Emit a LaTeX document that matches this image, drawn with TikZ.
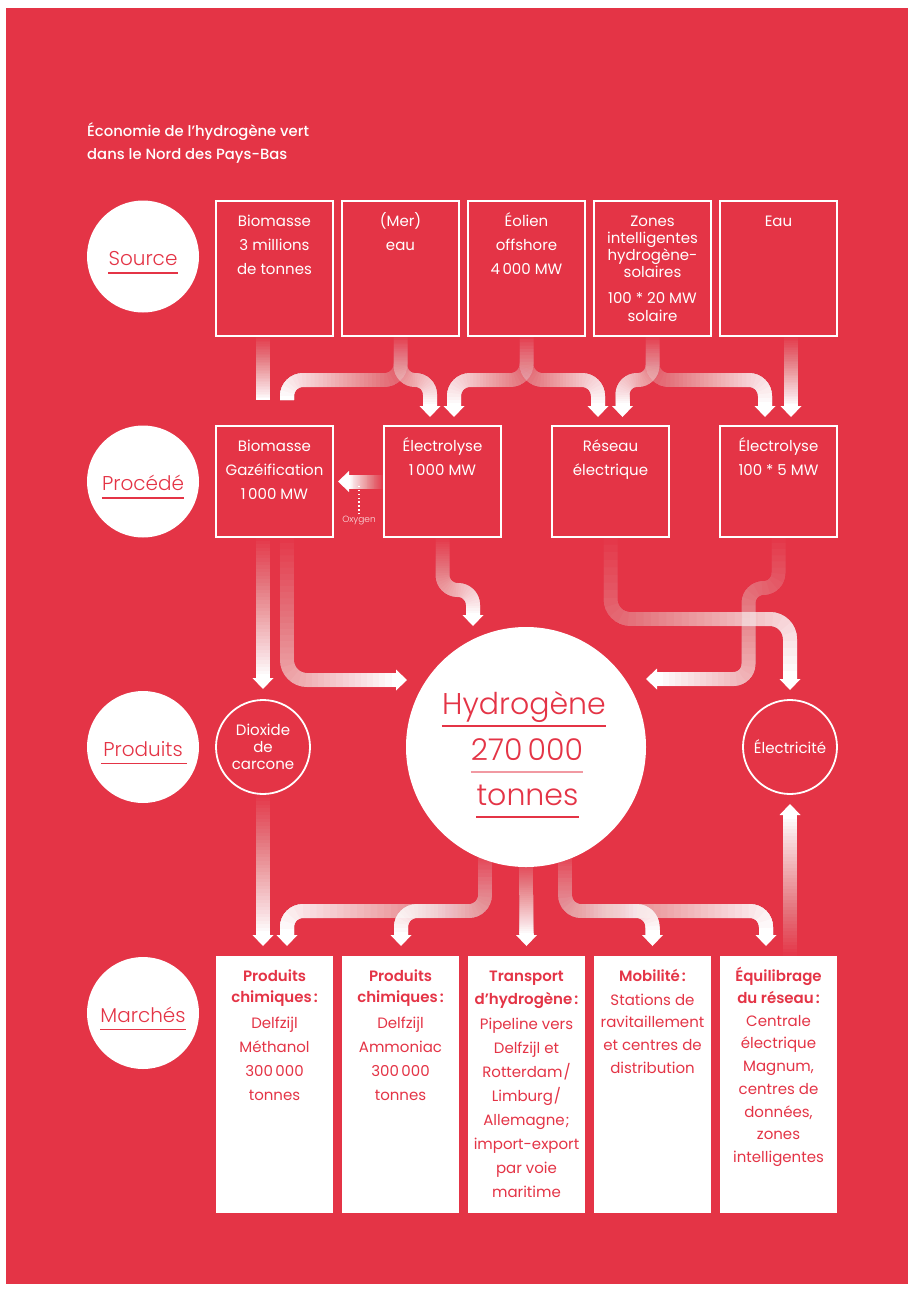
\documentclass[tikz,border=0pt]{standalone}
\usepackage{fontspec}
\setmainfont{Poppins}
\newfontfamily\lightfont{Poppins Light}
\newfontfamily\medfont{Poppins Medium}
\newfontfamily\sbfont{Poppins SemiBold}
\usetikzlibrary{calc}
\definecolor{hred}{RGB}{228,52,70}
\definecolor{hpink}{RGB}{241,153,162}
\newcommand\bodyf{\fontsize{15}{24}\selectfont}
\newcommand\boxtxt[2]{\parbox[t][#1][t]{117pt}{\centering\bodyf\rule{0pt}{16pt}#2}}
\newcommand\gband[3][]{%
  \foreach \k in {0,...,39}{%
    \pgfmathsetmacro\goff{\k*#3/40}%
    \pgfmathsetmacro\gop{1/(40-\k)}%
    \draw[band,#1,draw opacity=\gop,dash pattern=on 0pt off \goff pt on 3000pt off 3000pt] #2;}}
\newcommand\tipD[1]{\fill[white] ($(#1)+(-10.5,0)$) -- ($(#1)+(10.5,0)$) -- ($(#1)+(0,11)$) -- cycle;}
\newcommand\tipU[1]{\fill[white] ($(#1)+(-10.5,0)$) -- ($(#1)+(10.5,0)$) -- ($(#1)+(0,-11)$) -- cycle;}
\newcommand\tipR[1]{\fill[white] ($(#1)+(0,-10.5)$) -- ($(#1)+(0,10.5)$) -- ($(#1)+(11,0)$) -- cycle;}
\newcommand\tipL[1]{\fill[white] ($(#1)+(0,-10.5)$) -- ($(#1)+(0,10.5)$) -- ($(#1)+(-11,0)$) -- cycle;}
\begin{document}
\begin{tikzpicture}[x=1pt,y=-1pt,font=\bodyf,
  band/.style={draw=white,line width=14pt},
  srcbox/.style={draw=white,line width=1.8pt,inner xsep=0pt,inner ysep=9pt,outer sep=0pt,anchor=north west,text=white},
  mktbox/.style={fill=white,inner xsep=0pt,inner ysep=9pt,outer sep=0pt,anchor=north west,text=hred},
  stage/.style={circle,fill=white,minimum size=112pt,inner sep=0pt},
  stagelbl/.style={anchor=base,inner sep=0pt,text=hred,font=\lightfont\fontsize{20}{24}\selectfont},
  stageul/.style={draw=hred,line width=1.1pt},
  prodc/.style={circle,draw=white,line width=1.8pt,minimum size=94pt,inner sep=0pt,outer sep=0pt,text=white},
  h2lbl/.style={anchor=base,inner sep=0pt,text=hred,font=\lightfont\fontsize{30}{36}\selectfont},
  h2ul/.style={draw=hred,line width=1.2pt}]
\useasboundingbox (0,0) rectangle (909,1290);
\fill[white] (0,0) rectangle (909,1290);
\fill[hred] (6,8) rectangle (908,1284);

% title
\node[anchor=base west,inner sep=0pt,text=white] (title) at (87,136)
  {\parbox[t]{320pt}{\raggedright\medfont\fontsize{14.8}{23}\selectfont Économie de l’hydrogène vert\\dans le Nord des Pays-Bas}};

% stage circles
\node[stage] (cs) at (143,256.5) {};
\node[stage] (cp) at (143,481.5) {};
\node[stage] (cd) at (143,747) {};
\node[stage] (cm) at (143,1013) {};
\node[stagelbl] (ls) at ($(cs)+(0,9)$) {Source};
\node[stagelbl] (lp) at ($(cp)+(0,9)$) {Procédé};
\node[stagelbl] (ld) at ($(cd)+(0,9)$) {Produits};
\node[stagelbl] (lm) at ($(cm)+(0,9)$) {Marchés};
\foreach \n in {ls,lp,lm} \draw[stageul] ([yshift=-7.5pt]\n.base west) -- ([yshift=-7.5pt]\n.base east);
\draw[stageul] ([xshift=-2pt,yshift=-7.5pt]ld.base west) -- ([xshift=4pt,yshift=-7.5pt]ld.base east);

% source boxes
\node[srcbox] (s1) at (216,201) {\boxtxt{117pt}{Biomasse\\3 millions\\de tonnes}};
\node[srcbox] (s2) at (342,201) {\boxtxt{117pt}{(Mer)\\eau}};
\node[srcbox] (s3) at (468,201) {\boxtxt{117pt}{Éolien\\offshore\\4\,000 MW}};
\node[srcbox] (s4) at (594,201) {\boxtxt{117pt}{\fontsize{15}{17}\selectfont Zones\\intelligentes\\hydrogène-\\solaires\par\vspace{8pt}\fontsize{15}{18}\selectfont 100 * 20 MW\\solaire}};
\node[srcbox] (s5) at (720,201) {\boxtxt{117pt}{Eau}};

% process boxes
\node[srcbox] (p1) at (216,426) {\boxtxt{93pt}{Biomasse\\Gazéification\\1\,000 MW}};
\node[srcbox] (p2) at (384,426) {\boxtxt{93pt}{Électrolyse\\1\,000 MW}};
\node[srcbox] (p3) at (552,426) {\boxtxt{93pt}{Réseau\\électrique}};
\node[srcbox] (p4) at (720,426) {\boxtxt{93pt}{Électrolyse\\100 * 5 MW}};

% market boxes
\node[mktbox] (m1) at (216,956) {\boxtxt{239pt}{{\sbfont\fontsize{15}{21}\selectfont Produits\\chimiques\kern2pt:\par}\vspace{2pt}Delfzijl\\Méthanol\\300\,000\\tonnes}};
\node[mktbox] (m2) at (342,956) {\boxtxt{239pt}{{\sbfont\fontsize{15}{21}\selectfont Produits\\chimiques\kern2pt:\par}\vspace{2pt}Delfzijl\\Ammoniac\\300\,000\\tonnes}};
\node[mktbox] (m3) at (468,956) {\boxtxt{239pt}{{\sbfont\fontsize{15}{23.5}\selectfont Transport\\d’hydrogène\kern2pt:\par}\vspace{1pt}Pipeline vers\\Delfzijl et\\Rotterdam\kern1pt/\\Limburg\kern1pt/\\Allemagne\kern1pt;\\import-export\\par voie\\maritime}};
\node[mktbox] (m4) at (594,956) {\boxtxt{239pt}{{\sbfont Mobilité\kern2pt:\par}\vspace{1.3pt}\fontsize{15}{22.7}\selectfont Stations de\\ravitaillement\\et centres de\\distribution}};
\node[mktbox] (m5) at (720,956) {\boxtxt{239pt}{{\sbfont\fontsize{15}{22.5}\selectfont Équilibrage\\du réseau\kern2pt:\par}\fontsize{15}{22.7}\selectfont Centrale\\électrique\\Magnum,\\centres de\\données,\\zones\\intelligentes}};

% product circles
\node[prodc] (dio) at (263,747) {\parbox{80pt}{\centering\fontsize{15}{17}\selectfont Dioxide\\de\\carcone}};
\node[prodc] (elec) at (790,747) {Électricité};
\node[circle,fill=white,minimum size=240pt,inner sep=0pt,outer sep=0pt] (h2) at (526,747) {};

% ---- source -> process bands
\coordinate (hs) at (0,380);
\coordinate (o1) at ($(s1.south)+(-11.5,0)$);
\coordinate (o8) at ($(s5.south)+(12.5,0)$);
\coordinate (a1) at ($(p1.north)+(-11.5,-26)$);
\coordinate (a2) at ($(p1.north)+(12.5,-26)$);
\coordinate (a3) at ($(p2.north)+(-12.5,-20)$);
\coordinate (a4) at ($(p2.north)+(11.5,-20)$);
\coordinate (a5) at ($(p3.north)+(-12.5,-20)$);
\coordinate (a6) at ($(p3.north)+(12,-20)$);
\coordinate (a7) at ($(p4.north)+(-13.5,-20)$);
\coordinate (a8) at ($(p4.north)+(12.5,-20)$);
\gband{(o1) -- (a1)}{64}
\gband[rounded corners=16pt]{(s2.south) -- (s2.south |- hs) -- (a2 |- hs) -- (a2)}{164}
\gband[rounded corners=14.5pt]{(s2.south) -- (s2.south |- hs) -- (a3 |- hs) -- (a3)}{87}
\gband[rounded corners=16pt]{(s3.south) -- (s3.south |- hs) -- (a4 |- hs) -- (a4)}{129}
\gband[rounded corners=16pt]{(s3.south) -- (s3.south |- hs) -- (a5 |- hs) -- (a5)}{128}
\gband[rounded corners=14.5pt]{(s4.south) -- (s4.south |- hs) -- (a6 |- hs) -- (a6)}{87}
\gband[rounded corners=16pt]{(s4.south) -- (s4.south |- hs) -- (a7 |- hs) -- (a7)}{169}
\gband{(o8) -- (a8)}{70}
\foreach \c in {a3,a4,a5,a6,a7,a8} \tipD{\c};

% ---- process -> products bands
\coordinate (b1) at ($(p1.south)+(-11.5,0)$);
\coordinate (b2) at ($(p1.south)+(12.5,0)$);
\coordinate (c1) at ($(dio.north)+(0,-22)$);
\coordinate (c2) at ($(h2.west)+(-10,-67)$);
\coordinate (hc3) at (0,590);
\coordinate (c3) at ($(h2.north)+(-53,-12)$);
\coordinate (hc4) at (0,619);
\coordinate (c4) at ($(elec.north)+(0,-21)$);
\coordinate (v5) at (748.5,588);
\coordinate (c5) at ($(h2.east)+(11,-68)$);
\gband{(b1) -- (c1)}{141}
\gband[rounded corners=20pt]{(b2) -- (b2 |- c2) -- (c2)}{245}
\gband[rounded corners=15pt]{(p2.south) -- (p2.south |- hc3) -- (c3 |- hc3) -- (c3)}{96}
\gband[rounded corners=20pt]{(p3.south) -- (p3.south |- hc4) -- (c4 |- hc4) -- (c4)}{304}
\gband[rounded corners=15pt]{(p4.south) -- (p4.south |- v5) -- (v5) -- (v5 |- c5) -- (c5)}{244}
\tipD{c1} \tipR{c2} \tipD{c3} \tipD{c4} \tipL{c5}

% oxygen
\coordinate (ox) at ($(p1.east)+(16,0)$);
\gband{(p2.west) -- (ox)}{35}
\tipL{ox}
\node[inner sep=0pt,text=white!85!hred,font=\lightfont\fontsize{9}{10}\selectfont] (oxy) at (359,521) {Oxygen};
\draw[white,line width=1.3pt,dash pattern=on 1.3pt off 2.6pt] ($(oxy.north)+(0,-2)$) -- ($(ox)+(10,3)$);

% ---- products -> markets bands
\coordinate (hm) at (0,911);
\coordinate (t1) at ($(h2.250.5)+(0,-10)$);
\coordinate (t2) at ($(h2.south)+(0,-10)$);
\coordinate (t3) at ($(h2.289.5)+(0,-10)$);
\coordinate (d1) at ($(m1.north)+(-11.5,-21)$);
\coordinate (d2) at ($(m1.north)+(12.5,-21)$);
\coordinate (d3) at ($(m2.north)+(0.5,-21)$);
\coordinate (d4) at ($(m3.north)+(0,-21)$);
\coordinate (d5) at ($(m4.north)+(0,-21)$);
\coordinate (d6) at ($(m5.north)+(-12.5,-21)$);
\gband{(dio.south) -- (d1)}{141}
\gband[rounded corners=16pt]{(t1) -- (t1 |- hm) -- (d2 |- hm) -- (d2)}{270}
\gband[rounded corners=16pt]{(t1) -- (t1 |- hm) -- (d3 |- hm) -- (d3)}{156}
\gband{(t2) -- (d4)}{78}
\gband[rounded corners=16pt]{(t3) -- (t3 |- hm) -- (d5 |- hm) -- (d5)}{157}
\gband[rounded corners=16pt]{(t3) -- (t3 |- hm) -- (d6 |- hm) -- (d6)}{271}
\foreach \c in {d1,d2,d3,d4,d5,d6} \tipD{\c};

% ---- market -> electricity
\coordinate (e0) at ($(m5.north)+(11.5,0)$);
\coordinate (e1) at ($(elec.south)+(0,21)$);
\gband{(e0) -- (e1)}{141}
\tipU{e1}

% hydrogen text
\node[h2lbl] (h2a) at ($(h2)+(-2,-32.7)$) {Hydrogène};
\node[h2lbl] (h2b) at ($(h2)+(1,13)$) {270\,000};
\node[h2lbl] (h2c) at ($(h2)+(1.5,58.7)$) {tonnes};
\draw[h2ul] ([yshift=-11.7pt]h2a.base west) -- ([yshift=-11.7pt]h2a.base east);
\draw[h2ul,draw=hpink] ([yshift=-12pt]h2b.base west) -- ([yshift=-12pt]h2b.base east);
\draw[h2ul] ([yshift=-11.3pt]h2c.base west) -- ([yshift=-11.3pt]h2c.base east);
\end{tikzpicture}
\end{document}
